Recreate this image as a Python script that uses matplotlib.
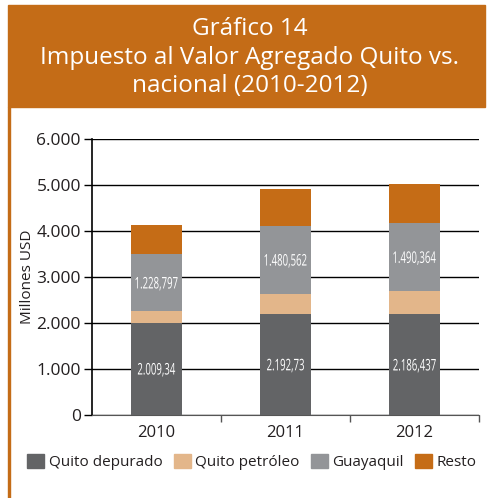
import matplotlib
matplotlib.use("Agg")
import matplotlib.pyplot as plt
from matplotlib.patches import Rectangle, Patch, PathPatch
from matplotlib.textpath import TextPath
from matplotlib.font_manager import FontProperties
from matplotlib.transforms import Affine2D, ScaledTranslation

# data (millones USD)
years = ['2010', '2011', '2012']
quito_depurado = [2009.34, 2192.73, 2186.437]
quito_petroleo = [252, 440, 500]
guayaquil = [1228.797, 1480.562, 1490.364]
resto = [640, 800, 840]
labels_dep = ['2.009,34', '2.192,73', '2.186,437']
labels_gye = ['1.228,797', '1.480,562', '1.490,364']
series_names = ['Quito depurado', 'Quito petróleo', 'Guayaquil', 'Resto']
yticks = [0, 1000, 2000, 3000, 4000, 5000, 6000]
ytick_labels = ['0', '1.000', '2.000', '3.000', '4.000', '5.000', '6.000']

c_dep = '#636466'
c_pet = '#E3B68A'
c_gye = '#939598'
c_res = '#C56C16'
orange = '#C46C17'
txt = '#231F20'

plt.rcParams['font.family'] = ['Open Sans', 'DejaVu Sans']

W, H = 488, 498
fig = plt.figure(figsize=(W / 100, H / 100), dpi=100)

# header band and left rule
fig.patches.append(Rectangle((8 / W, 1 - 107 / H), 477 / W, 102 / H,
                             transform=fig.transFigure, color=orange, zorder=0))
fig.patches.append(Rectangle((8 / W, 0), 2 / W, 1 - 107 / H,
                             transform=fig.transFigure, color=orange, zorder=0))
title_lines = ['Gráfico 14', 'Impuesto al Valor Agregado Quito vs.', 'nacional (2010-2012)']
for i, t in enumerate(title_lines):
    fig.text(250 / W, 1 - (29 + 28.5 * i) / H, t, color='white', fontsize=17.5,
             ha='center', va='center')

ax = fig.add_axes([92 / W, 83 / H, 387 / W, 276 / H])
x = range(len(years))
w = 0.395
b1 = quito_depurado
b2 = [a + b for a, b in zip(b1, quito_petroleo)]
b3 = [a + b for a, b in zip(b2, guayaquil)]
ax.bar(x, quito_depurado, w, color=c_dep, zorder=3)
ax.bar(x, quito_petroleo, w, bottom=b1, color=c_pet, zorder=3)
ax.bar(x, guayaquil, w, bottom=b2, color=c_gye, zorder=3)
ax.bar(x, resto, w, bottom=b3, color=c_res, zorder=3)

# condensed white value labels: text outlines squeezed horizontally
lab_prop = FontProperties(family='Open Sans')
digit_ext = TextPath((0, 0), '0', size=16, prop=lab_prop).get_extents()
yc = (digit_ext.y0 + digit_ext.y1) / 2


def cond_label(xv, yv, s):
    p = TextPath((0, 0), s, size=16, prop=lab_prop)
    e = p.get_extents()
    tr = (Affine2D().translate(-(e.x0 + e.x1) / 2, -yc).scale(0.6, 1.0)
          + ScaledTranslation(xv, yv, ax.transData))
    ax.add_patch(PathPatch(p, transform=tr, facecolor='white', lw=0, zorder=4))


for i in x:
    cond_label(i, b1[i] / 2, labels_dep[i])
    cond_label(i, b2[i] + guayaquil[i] / 2, labels_gye[i])

ax.set_xlim(-0.5, 2.5)
ax.set_ylim(0, 6000)
ax.set_yticks(yticks)
ax.set_yticklabels(ytick_labels)
ax.set_xticks(list(x))
ax.set_xticklabels(years)
ax.set_xticks([0.5, 1.5, 2.5], minor=True)
ax.tick_params(axis='x', which='major', length=0, pad=7, labelsize=12, labelcolor=txt)
ax.tick_params(axis='x', which='minor', length=5, width=1, color='#555555')
ax.tick_params(axis='y', length=6, width=1, labelsize=12.5, labelcolor=txt, pad=2)
ax.yaxis.grid(True, color='black', linewidth=1)
ax.set_axisbelow(True)
for s in ['top', 'right']:
    ax.spines[s].set_visible(False)
ax.spines['left'].set_linewidth(1.2)
ax.spines['bottom'].set_color('#555555')
ax.set_ylabel('Millones USD', fontsize=11, color=txt)
ax.yaxis.set_label_coords(-0.147, 0.5)

handles = [Patch(color=c) for c in [c_dep, c_pet, c_gye, c_res]]
fig.legend(handles, series_names, loc='center', bbox_to_anchor=(252 / W, 1 - 462 / H),
           ncol=4, frameon=False, fontsize=11, handlelength=1.1, handleheight=1.1,
           handletextpad=0.3, columnspacing=0.75, labelcolor=txt,
           borderpad=0, borderaxespad=0)

fig.savefig('out.png', dpi=100)
